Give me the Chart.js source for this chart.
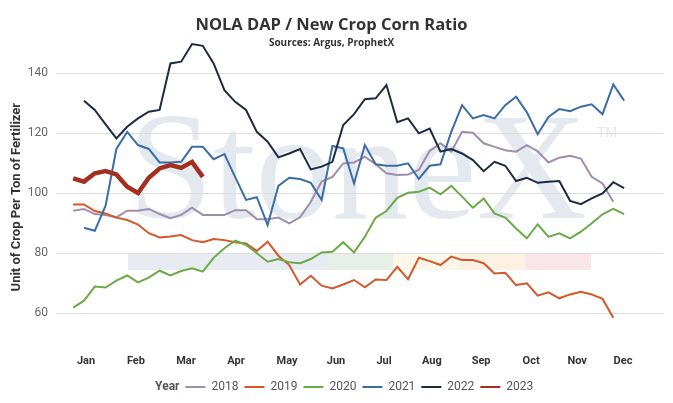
<!DOCTYPE html>
<html>
<head>
<meta charset="utf-8">
<title>NOLA DAP / New Crop Corn Ratio</title>
<script src="https://cdn.jsdelivr.net/npm/chart.js@4.4.1/dist/chart.umd.min.js"></script>
<style>
  html, body { margin: 0; padding: 0; background: #fff; }
  #wrap { width: 673px; height: 403px; position: relative; }
</style>
</head>
<body>
<div id="wrap"><canvas id="ratioChart"></canvas></div>
<script>
// 월 라벨 (x축은 주 단위 인덱스)
const months = ['Jan', 'Feb', 'Mar', 'Apr', 'May', 'Jun', 'Jul', 'Aug', 'Sep', 'Oct', 'Nov', 'Dec'];
const monthPos = [1.19, 5.81, 10.44, 15.07, 19.8, 24.33, 28.78, 33.2, 37.76, 42.39, 46.65, 50.9];
const yTicks = [60, 80, 100, 120, 140];

const years = ['2018', '2019', '2020', '2021', '2022', '2023'];
const colors = ['#a18dab', '#d4582b', '#6bab47', '#3a6ea5', '#1c2b41', '#a3301f'];

const y2018 = [94.2, 94.8, 93.1, 92.8, 92.0, 94.2, 94.2, 94.8, 93.1, 91.7, 92.8, 95.2, 92.8, 92.8, 92.8, 94.4, 94.4,
  91.4, 91.4, 91.9, 90.0, 92.0, 97.2, 103.9, 105.5, 110.0, 110.3, 112.2, 109.7, 106.7, 106.1, 106.3, 107.8, 114.1,
  116.7, 113.9, 120.5, 120.2, 116.7, 115.5, 114.4, 113.9, 116.1, 114.0, 110.3, 111.9, 112.5, 111.6, 105.5, 103.3, 97.2];
const y2019 = [96.3, 96.3, 94.1, 93.3, 91.9, 91.1, 89.6, 86.7, 85.3, 85.6, 86.1, 84.4, 83.7, 84.8, 84.4, 83.7, 83.3,
  80.8, 83.9, 79.2, 76.1, 69.6, 72.5, 69.2, 68.3, 69.6, 71.1, 68.7, 71.3, 71.1, 75.5, 71.4, 78.5, 77.4, 76.1, 78.9,
  77.8, 77.8, 76.7, 73.3, 73.5, 69.4, 70.0, 65.9, 67.0, 65.0, 66.3, 67.2, 66.3, 64.8, 58.5];
const y2020 = [61.9, 64.2, 68.9, 68.6, 70.9, 72.6, 70.3, 71.9, 74.2, 72.6, 74.1, 75.0, 73.9, 78.5, 81.7, 84.2, 82.8,
  80.0, 77.2, 78.1, 77.0, 76.7, 78.1, 80.3, 80.5, 83.7, 80.3, 85.5, 91.9, 94.1, 98.5, 100.2, 100.5, 101.9, 99.7,
  102.5, 98.9, 95.2, 98.3, 93.3, 91.9, 88.3, 85.0, 89.7, 85.5, 86.7, 85.0, 87.2, 90.0, 93.0, 94.8, 93.1];
const y2021 = [null, 88.5, 87.5, 95.9, 114.8, 120.5, 116.1, 114.8, 110.3, 110.3, 110.5, 115.5, 115.5, 111.4, 113.1,
  105.4, 97.8, 98.7, 89.4, 102.5, 105.2, 104.8, 103.5, 97.8, 115.8, 115.0, 103.3, 116.1, 109.7, 109.2, 109.2, 110.0,
  104.8, 109.2, 109.7, 120.5, 129.4, 125.0, 126.1, 125.0, 129.4, 132.2, 127.0, 119.7, 125.5, 128.1, 127.4, 128.9,
  129.7, 126.4, 136.3, 130.9];
const y2022 = [null, 130.9, 127.8, 123.0, 118.3, 122.2, 125.0, 127.2, 127.8, 143.3, 143.9, 149.8, 149.2, 143.3, 134.4,
  130.5, 127.8, 120.5, 117.2, 112.0, 113.3, 114.8, 108.0, 108.9, 110.5, 122.8, 126.4, 131.4, 131.7, 136.1, 123.7,
  125.0, 120.0, 121.6, 113.9, 114.8, 113.3, 111.1, 107.4, 110.5, 109.2, 104.1, 105.2, 103.5, 103.9, 104.1, 97.5,
  96.4, 98.3, 100.0, 103.7, 101.7];
const y2023 = [105.0, 103.9, 106.7, 107.4, 106.3, 102.2, 100.1, 105.2, 108.3, 109.4, 108.5, 110.5, 105.5];

const seriesValues = [y2018, y2019, y2020, y2021, y2022, y2023];

function toPoints(arr) {
    return arr.map((v, i) => ({ x: i, y: v }));
}

// 배경 워터마크 (StoneX 로고)
const watermark = {
    id: 'watermark',
    beforeDraw(chart) {
        const ctx = chart.ctx;
        const ca = chart.chartArea;
        ctx.save();
        const bands = [
            [72, 199, '#e8ecf2'], [271, 66, '#e6efe8'], [337, 65, '#fbf8e9'],
            [402, 67, '#fdf1e3'], [469, 66, '#f8e6e8']
        ];
        bands.forEach(b => {
            ctx.fillStyle = b[2];
            ctx.fillRect(ca.left + b[0], 253, b[1], 17);
        });
        ctx.fillStyle = '#e4e8ef';
        ctx.font = '153px "Liberation Serif"';
        ctx.textBaseline = 'alphabetic';
        ctx.fillText('StoneX', ca.left + 72, 218);
        ctx.font = '14px "Liberation Sans"';
        ctx.fillText('TM', ca.left + 541, 137);
        ctx.restore();
    }
};

// 범례 앞의 "Year" 라벨
const legendTitle = {
    id: 'legendTitle',
    afterDraw(chart) {
        const ctx = chart.ctx;
        const hb = chart.legend.legendHitBoxes[0];
        if (!hb) return;
        ctx.save();
        ctx.font = 'bold 12px Roboto';
        ctx.fillStyle = '#555';
        ctx.textAlign = 'right';
        ctx.textBaseline = 'middle';
        ctx.fillText('Year', hb.left + hb.width, hb.top + hb.height / 2);
        ctx.restore();
    }
};

function initChart() {
    const ctx = document.getElementById('ratioChart').getContext('2d');
    Chart.defaults.font.family = "Roboto, sans-serif";

    new Chart(ctx, {
        type: 'line',
        data: {
            datasets: years.map((yr, i) => ({
                label: yr,
                data: toPoints(seriesValues[i]),
                borderColor: colors[i],
                backgroundColor: colors[i],
                borderWidth: yr === '2023' ? 4.5 : 2,
                pointRadius: 0,
                tension: 0,
                fill: false,
                clip: false,
                order: years.length - i
            }))
        },
        options: {
            responsive: true,
            maintainAspectRatio: false,
            animation: false,
            layout: { padding: { left: 0, right: 10, top: 0, bottom: 0 } },
            scales: {
                x: {
                    type: 'linear',
                    min: -1.59,
                    max: 54.6,
                    grid: { display: false },
                    border: { display: false },
                    afterBuildTicks: (scale) => {
                        scale.ticks = monthPos.map(v => ({ value: v }));
                    },
                    afterFit: (scale) => { scale.height = 30; },
                    ticks: {
                        autoSkip: false,
                        maxRotation: 0,
                        padding: 2,
                        color: '#333',
                        font: { size: 11, weight: 'bold' },
                        callback: (val, idx) => months[idx]
                    }
                },
                y: {
                    min: 49.43,
                    max: 148.03,
                    grid: { color: '#dddddd', drawTicks: false },
                    border: { display: false },
                    afterBuildTicks: (scale) => {
                        scale.ticks = yTicks.map(v => ({ value: v }));
                    },
                    afterFit: (scale) => { scale.width = 56; },
                    ticks: { padding: 8, color: '#666', font: { size: 12 } },
                    title: {
                        display: true,
                        text: 'Unit of Crop Per Ton of Fertilizer',
                        color: '#333',
                        font: { size: 13, weight: 'bold' },
                        padding: { top: 9, bottom: 0 }
                    }
                }
            },
            plugins: {
                title: {
                    display: true,
                    text: 'NOLA DAP / New Crop Corn Ratio',
                    color: '#333',
                    font: { family: '"Open Sans"', size: 16.5, weight: 'bold' },
                    padding: { top: 15, bottom: 0.5 }
                },
                subtitle: {
                    display: true,
                    text: 'Sources: Argus, ProphetX',
                    color: '#333',
                    font: { family: '"Open Sans"', size: 10, weight: 'bold' },
                    padding: { top: 2, bottom: 0 }
                },
                legend: {
                    position: 'bottom',
                    labels: {
                        boxWidth: 20,
                        boxHeight: 2,
                        padding: 6,
                        color: '#555',
                        font: { size: 12 },
                        generateLabels: (chart) => {
                            const items = chart.data.datasets.map((ds, i) => ({
                                text: ds.label,
                                fillStyle: ds.borderColor,
                                strokeStyle: ds.borderColor,
                                lineWidth: 0,
                                fontColor: '#555',
                                hidden: false,
                                datasetIndex: i
                            }));
                            items.unshift({
                                text: 'Year',
                                fillStyle: 'rgba(0,0,0,0)',
                                strokeStyle: 'rgba(0,0,0,0)',
                                lineWidth: 0,
                                fontColor: 'rgba(0,0,0,0)',
                                hidden: false,
                                datasetIndex: -1
                            });
                            return items;
                        }
                    }
                },
                tooltip: { enabled: false }
            }
        },
        plugins: [watermark, legendTitle]
    });
}

window.addEventListener('DOMContentLoaded', initChart);
</script>
</body>
</html>
